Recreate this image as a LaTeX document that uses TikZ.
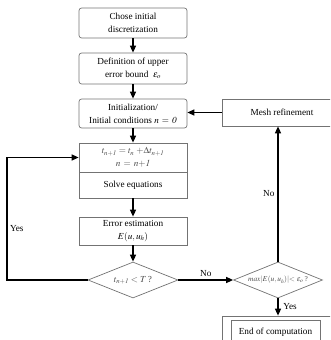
\documentclass[tikz,border=0pt]{standalone}
\usepackage{mathptmx}
\usepackage{fontspec}
\setmainfont{Liberation Serif}
\usetikzlibrary{arrows.meta,shapes.geometric}

\tikzset{
  blk/.style={draw=black!55, line width=0.8pt, minimum width=4.32cm, align=center, inner sep=1pt},
  rblk/.style={blk, rounded corners=3pt},
  dec/.style={draw=black!55, line width=0.8pt, shape=diamond, inner sep=0pt,
              minimum width=3.6cm, minimum height=1.44cm},
  flow/.style={line width=1.6pt, -{Triangle[length=2.8mm,width=2.4mm]}},
  grey/.style={text=black!70},
}

\begin{document}
\begin{tikzpicture}[x=0.04cm, y=-0.04cm, font=\fontsize{10.5}{14.5}\selectfont]
    \clip (0,0) rectangle (330,340);
    \node[rblk, minimum height=1.2cm] (discr) at (133,23) {Chose initial\\discretization};
    \node[rblk, minimum height=1.24cm] (bound) at (133,68.5) {Definition of upper\\error bound \ $\varepsilon_o$};
    \node[rblk, minimum height=1.16cm] (initc) at (133,113.5) {Initialization/\\Initial conditions $n\,=\,\mathit{0}$};
    \node[blk, minimum height=1.16cm, grey] (tstep) at (133,157.5) {$t_{n+\mathit{1}} = t_n\ {+}\Delta t_{n+\mathit{1}}$\\$n\,=\,n{+}\mathit{1}$};
    \node[blk, minimum height=1.04cm] (solve) at (133,185) {Solve equations};
    \node[blk, minimum height=1.12cm] (errest) at (133,231) {Error estimation\\$E(u,u_h)$};
    \node[dec] (tcheck) at (133,280) {};
    \node[grey] (tchecktxt) at (tcheck) {$t_{n+\mathit{1}} < T$\,?};
    \node[dec, minimum width=3.56cm] (echeck) at (278,280) {};
    \node[grey, font=\fontsize{8.5}{10}\selectfont] (echecktxt) at (echeck) {$max|E(u,u_h)|{<}\ \varepsilon_o$\,?};
    \node[blk, minimum width=4.8cm, minimum height=1.08cm] (mesh) at (282,112.5) {Mesh refinement};
    \node[blk, minimum width=4.8cm, minimum height=1.36cm] (endo) at (282,333) {};
    \node[blk, minimum width=3.56cm, minimum height=1.0cm] (endc) at (275.5,332.5) {End of computation};
    \coordinate (back) at (7,0);

    \draw[flow] (discr) -- (bound);
    \draw[flow] (bound) -- (initc);
    \draw[flow] (initc) -- (tstep);
    \draw[flow] (solve) -- (errest);
    \draw[flow] (errest) -- (tcheck);
    \draw[flow] (tcheck.east) -- (echeck.west) node[midway, above] {No};
    \draw[flow] (echeck.south) -- (echeck.south |- endo.north) node[midway, right=2pt] {Yes};
    \draw[flow] (echeck.north) -- (echeck.north |- mesh.south) node[midway, left] {No};
    \draw[flow] (mesh.west) -- (mesh.west -| initc.east);
    \draw[flow] (tcheck.west) -- (tcheck.west -| back) |- (tstep.west);
    \node[right] (yes) at (7,229) {Yes};
\end{tikzpicture}
\end{document}
